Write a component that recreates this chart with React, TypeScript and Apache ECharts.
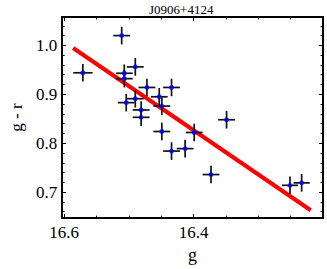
import React, { useEffect, useRef } from "react";
import * as echarts from "echarts";

const titleText = "J0906+4124";
const xName = "g";
const yName = "g - r";

const gValues = [16.571, 16.511, 16.507, 16.507, 16.49, 16.504, 16.49, 16.481, 16.481, 16.472, 16.453, 16.449, 16.434, 16.449, 16.434, 16.413, 16.399, 16.373, 16.349, 16.251, 16.233];
const grValues = [0.944, 1.02, 0.943, 0.932, 0.956, 0.883, 0.891, 0.868, 0.853, 0.914, 0.895, 0.876, 0.914, 0.824, 0.784, 0.789, 0.822, 0.736, 0.848, 0.714, 0.719];
const gErrors = [0.015, 0.013, 0.013, 0.013, 0.013, 0.013, 0.013, 0.013, 0.013, 0.013, 0.013, 0.013, 0.013, 0.013, 0.013, 0.013, 0.013, 0.013, 0.013, 0.0125, 0.0125];
const grErrors = [0.018, 0.018, 0.018, 0.018, 0.018, 0.018, 0.018, 0.018, 0.018, 0.018, 0.018, 0.018, 0.018, 0.018, 0.018, 0.018, 0.018, 0.018, 0.018, 0.018, 0.018];

const fitG = [16.586, 16.219];
const fitGR = [0.9946, 0.663];

const xMajorTicks = [16.2, 16.4, 16.6];
const xLabelTicks = [16.4, 16.6];
const xMinorTicks = [16.25, 16.3, 16.35, 16.45, 16.5, 16.55];
const yMajorTicks = [0.7, 0.8, 0.9, 1.0];
const yMinorTicks = [0.66, 0.68, 0.72, 0.74, 0.76, 0.78, 0.82, 0.84, 0.86, 0.88, 0.92, 0.94, 0.96, 0.98, 1.02, 1.04];

const X_MIN = 16.2;
const X_MAX = 16.603;
const Y_MIN = 0.647;
const Y_MAX = 1.058;

const FONT = "Liberation Serif";

export default function App() {
  const ref = useRef<HTMLDivElement>(null);
  useEffect(() => {
    if (!ref.current) return;
    const chart = echarts.init(ref.current, null, { renderer: "svg" });
    const line = { show: true, lineStyle: { color: "#000", width: 2 } };
    const mkX = (position: string, ticks: number[], len: number, showLine: boolean, labels: boolean, extra: any = {}) => ({
      type: "value",
      position,
      inverse: true,
      min: X_MIN,
      max: X_MAX,
      gridIndex: 0,
      axisLine: showLine ? line : { show: false },
      axisTick: { show: true, inside: true, length: len, customValues: ticks, lineStyle: { color: "#000", width: 1 } },
      axisLabel: labels
        ? { show: true, customValues: xLabelTicks, fontFamily: FONT, fontSize: 17, color: "#000", margin: 6, formatter: (v: number) => v.toFixed(1) }
        : { show: false },
      splitLine: { show: false },
      ...extra,
    });
    const mkY = (position: string, ticks: number[], len: number, showLine: boolean, labels: boolean, extra: any = {}) => ({
      type: "value",
      position,
      min: Y_MIN,
      max: Y_MAX,
      gridIndex: 0,
      axisLine: showLine ? line : { show: false },
      axisTick: { show: true, inside: true, length: len, customValues: ticks, lineStyle: { color: "#000", width: 1 } },
      axisLabel: labels
        ? { show: true, customValues: yMajorTicks, fontFamily: FONT, fontSize: 17, color: "#000", margin: 5, formatter: (v: number) => v.toFixed(1) }
        : { show: false },
      splitLine: { show: false },
      ...extra,
    });
    const errData = gValues.map((g, i) => [g, grValues[i], gErrors[i], grErrors[i]]);
    chart.setOption({
      animation: false,
      graphic: [
        {
          type: "text",
          left: 149,
          top: 3,
          style: { text: titleText, font: "13px 'Liberation Serif'", fill: "#000" },
          z: 10,
        },
      ],
      grid: { left: 51, right: 4, top: 17, bottom: 49, containLabel: false },
      xAxis: [
        mkX("bottom", xMajorTicks, 4, true, true, {
          name: xName,
          nameLocation: "middle",
          nameGap: 27,
          nameTextStyle: { fontFamily: FONT, fontSize: 18, color: "#000" },
        }),
        mkX("bottom", xMinorTicks, 2.5, false, false),
        mkX("top", xMajorTicks, 4, true, false),
        mkX("top", xMinorTicks, 2.5, false, false),
      ],
      yAxis: [
        mkY("left", yMajorTicks, 4, true, true, {
          name: yName,
          nameLocation: "middle",
          nameGap: 35,
          nameTextStyle: { fontFamily: FONT, fontSize: 17, color: "#000" },
        }),
        mkY("left", yMinorTicks, 2.5, false, false),
        mkY("right", yMajorTicks, 4, true, false),
        mkY("right", yMinorTicks, 2.5, false, false),
      ],
      series: [
        {
          type: "line",
          xAxisIndex: 0,
          yAxisIndex: 0,
          data: fitG.map((g, i) => [g, fitGR[i]]),
          symbol: "none",
          lineStyle: { color: "#ff0000", width: 4 },
          z: 2,
        },
        {
          type: "custom",
          xAxisIndex: 0,
          yAxisIndex: 0,
          data: errData,
          z: 3,
          renderItem: (params: any, api: any) => {
            const x = api.value(0);
            const y = api.value(1);
            const ex = api.value(2);
            const ey = api.value(3);
            const a = api.coord([x - ex, y]);
            const b = api.coord([x + ex, y]);
            const c = api.coord([x, y - ey]);
            const d = api.coord([x, y + ey]);
            const st = { stroke: "#111", lineWidth: 1.7 };
            return {
              type: "group",
              children: [
                { type: "line", shape: { x1: a[0], y1: a[1], x2: b[0], y2: b[1] }, style: st },
                { type: "line", shape: { x1: c[0], y1: c[1], x2: d[0], y2: d[1] }, style: st },
              ],
            };
          },
        },
        {
          type: "scatter",
          xAxisIndex: 0,
          yAxisIndex: 0,
          data: gValues.map((g, i) => [g, grValues[i]]),
          symbol: "circle",
          symbolSize: 5,
          itemStyle: { color: "#0000ff" },
          z: 4,
        },
      ],
    });
    return () => chart.dispose();
  }, []);
  return <div ref={ref} style={{ position: "fixed", left: 0, top: 0, width: 327, height: 269, background: "#fff" }} />;
}
